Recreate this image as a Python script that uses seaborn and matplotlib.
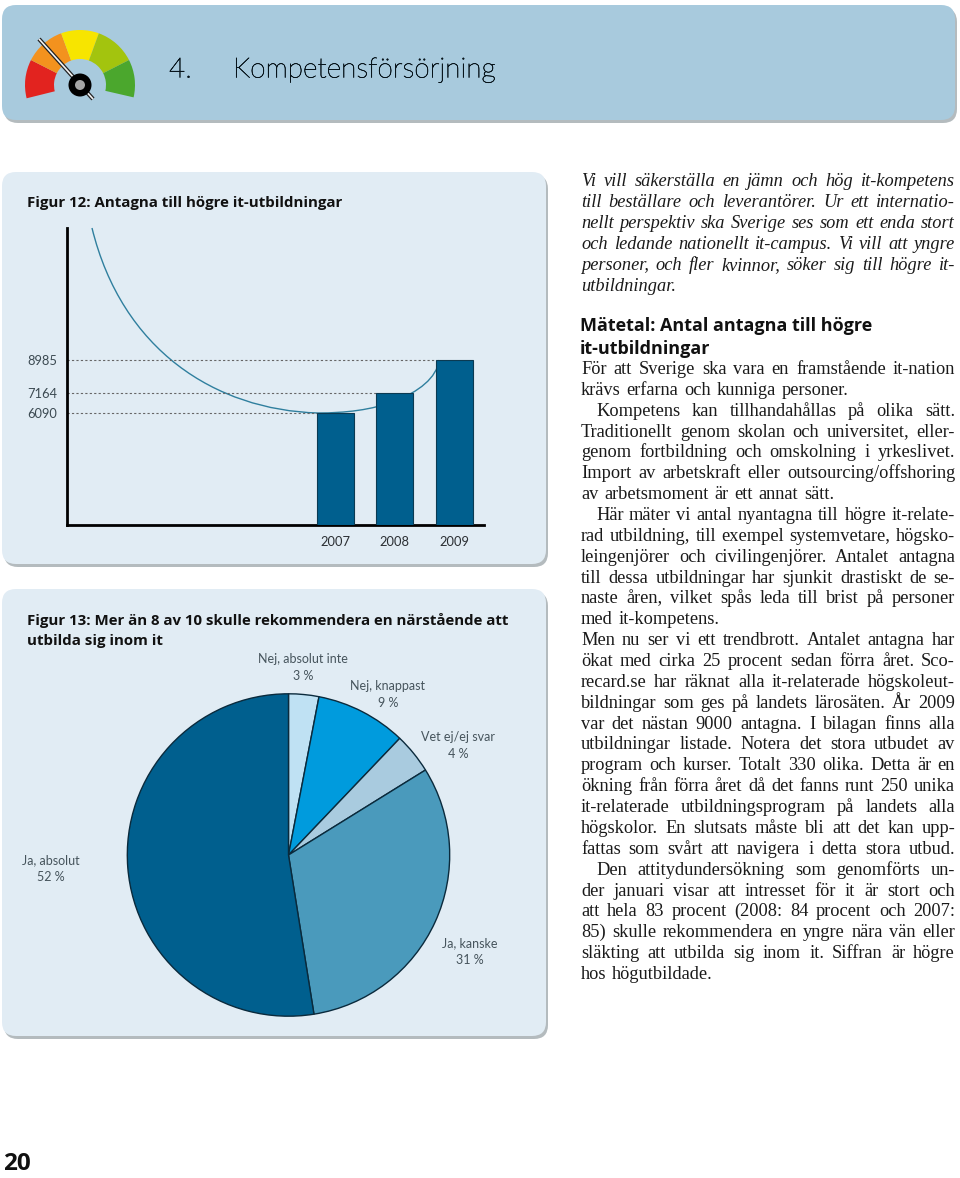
import matplotlib
matplotlib.use("Agg")
import matplotlib.pyplot as plt
import matplotlib.patheffects as pe
import pandas as pd
import seaborn as sns
from matplotlib.patches import FancyBboxPatch, PathPatch, Wedge, Circle
from matplotlib.path import Path

W, H = 960, 1178

# Figur 12
year_slots = ["2003", "2004", "2005", "2006", "2007", "2008", "2009"]
years = ["2007", "2008", "2009"]
admitted = [6090, 7164, 8985]

# Figur 13
pie_labels = ["Nej, absolut inte", "Nej, knappast", "Vet ej/ej svar", "Ja, kanske", "Ja, absolut"]
pie_values = [3, 9, 4, 31, 52]
pie_colors = ["#BFE1F3", "#009BDD", "#A9CBDF", "#4A9ABC", "#005F8E"]

# text column: (text, justified)
intro_lines = [
    ("Vi vill säkerställa en jämn och hög it-kompetens", True),
    ("till beställare och leverantörer. Ur ett internatio-", True),
    ("nellt perspektiv ska Sverige ses som ett enda stort", True),
    ("och ledande nationellt it-campus. Vi vill att yngre", True),
    ("personer, och fler kvinnor, söker sig till högre it-", True),
    ("utbildningar.", False),
]
body_lines = [
    ("För att Sverige ska vara en framstående it-nation", True, 0),
    ("krävs erfarna och kunniga personer.", False, 0),
    ("Kompetens kan tillhandahållas på olika sätt.", True, 15),
    ("Traditionellt genom skolan och universitet, eller-", True, 0),
    ("genom fortbildning och omskolning i yrkeslivet.", True, 0),
    ("Import av arbetskraft eller outsourcing/offshoring", True, 0),
    ("av arbetsmoment är ett annat sätt.", False, 0),
    ("Här mäter vi antal nyantagna till högre it-relate-", True, 15),
    ("rad utbildning, till exempel systemvetare, högsko-", True, 0),
    ("leingenjörer och civilingenjörer. Antalet antagna", True, 0),
    ("till dessa utbildningar har sjunkit drastiskt de se-", True, 0),
    ("naste åren, vilket spås leda till brist på personer", True, 0),
    ("med it-kompetens.", False, 0),
    ("Men nu ser vi ett trendbrott. Antalet antagna har", True, 0),
    ("ökat med cirka 25 procent sedan förra året. Sco-", True, 0),
    ("recard.se har räknat alla it-relaterade högskoleut-", True, 0),
    ("bildningar som ges på landets lärosäten. År 2009", True, 0),
    ("var det nästan 9000 antagna. I bilagan finns alla", True, 0),
    ("utbildningar listade. Notera det stora utbudet av", True, 0),
    ("program och kurser. Totalt 330 olika. Detta är en", True, 0),
    ("ökning från förra året då det fanns runt 250 unika", True, 0),
    ("it-relaterade utbildningsprogram på landets alla", True, 0),
    ("högskolor. En slutsats måste bli att det kan upp-", True, 0),
    ("fattas som svårt att navigera i detta stora utbud.", True, 0),
    ("Den attitydundersökning som genomförts un-", True, 15),
    ("der januari visar att intresset för it är stort och", True, 0),
    ("att hela 83 procent (2008: 84 procent och 2007:", True, 0),
    ("85) skulle rekommendera en yngre nära vän eller", True, 0),
    ("släkting att utbilda sig inom it. Siffran är högre", True, 0),
    ("hos högutbildade.", False, 0),
]

sns.set_theme(style="white")
plt.rcParams["font.family"] = ["Lato", "DejaVu Sans"]

fig = plt.figure(figsize=(W / 100, H / 100), dpi=100, facecolor="white")
bg = fig.add_axes([0, 0, 1, 1])
bg.set_xlim(0, W)
bg.set_ylim(0, H)
bg.axis("off")


def Y(y):
    return H - y


def panel(x0, y0, x1, y1, color, rad=14):
    # grey shadow first, then the panel itself
    for dx, dy, c in [(2, 3, "#B4BBBE"), (0, 0, color)]:
        bg.add_patch(FancyBboxPatch((x0 + rad + dx, Y(y1) + rad - dy), x1 - x0 - 2 * rad, y1 - y0 - 2 * rad,
                                    boxstyle=f"round,pad={rad},rounding_size={rad}", fc=c, ec="none"))


panel(2, 5, 955, 120, "#A8CADD")
panel(2, 172, 546, 564, "#E1ECF4")
panel(2, 589, 546, 1036, "#E1ECF4")

# gauge icon
cx, cy = 80, Y(85)
gauge = [(153, 194, "#E2231F"), (110, 153, "#F3921E"), (70, 110, "#F7E500"), (27, 70, "#A3C40E"), (-13, 27, "#4BA72D")]
for a0, a1, c in gauge:
    bg.add_patch(Wedge((cx, cy), 55, a0, a1, width=29, fc=c, ec="none"))
bg.plot([39, 93], [Y(39), Y(99)], color="#222222", lw=3, solid_capstyle="butt")
bg.plot([39, 93], [Y(39), Y(99)], color="#F2F2F2", lw=1.2, solid_capstyle="butt")
bg.add_patch(Circle((cx, cy), 11.5, fc="black", ec="none", zorder=3))
bg.add_patch(Circle((cx, cy), 5, fc="#A5A5A5", ec="none", zorder=4))

# the light weight renders pale, a hairline stroke brings it back
title_kw = dict(fontsize=20.2, fontweight="light", color="#07141B", va="center",
                path_effects=[pe.withStroke(linewidth=0.4, foreground="#07141B")])
bg.text(169, Y(70), "4.", **title_kw)
bg.text(233, Y(70), "Kompetensförsörjning", **title_kw)

head_kw = dict(family=["Open Sans", "DejaVu Sans"], fontweight="bold", color="#111111", va="center")
bg.text(27, Y(203), "Figur 12: Antagna till högre it-utbildningar", fontsize=10.85, **head_kw)
bg.text(27, Y(620), "Figur 13: Mer än 8 av 10 skulle rekommendera en närstående att", fontsize=10.85, **head_kw)
bg.text(27, Y(641), "utbilda sig inom it", fontsize=10.85, **head_kw)

# decorative arc running behind the bars
arc = Path([(92, Y(228)), (122, Y(350)), (215, Y(410)), (318, Y(413)),
            (345, Y(413)), (372, Y(410)), (395, Y(401)),
            (418, Y(392)), (437, Y(378)), (439, Y(360))],
           [Path.MOVETO] + [Path.CURVE4] * 9)
bg.add_patch(PathPatch(arc, fc="none", ec="#2F7F9E", lw=1))

# bar chart
ax = fig.add_axes([67 / W, (H - 525) / H, 417 / W, 297 / H])
ax.patch.set_alpha(0)
df = pd.DataFrame({"year": years, "antagna": admitted})
sns.barplot(data=df, x="year", y="antagna", order=year_slots, color="#005F8E", saturation=1,
            width=0.62, edgecolor="#0B3A52", linewidth=0.8, ax=ax, zorder=3)
ax.set_ylim(0, 16176)
ax.set_xlim(-0.5, 6.5)
ax.set_xlabel("")
ax.set_ylabel("")
for i, v in zip(range(4, 7), admitted):
    ax.hlines(v, -0.5, i - 0.3, color="#666666", lw=0.8, linestyles=(0, (2, 2)), zorder=2)
ax.set_xticks(range(4, 7), years)
ax.set_yticks(admitted, [str(v) for v in admitted])
ax.tick_params(axis="x", length=0, pad=8, labelsize=9.3, labelcolor="#2B2F33")
ax.tick_params(axis="y", length=0, pad=7, labelsize=9.3, labelcolor="#3C4A52")
sns.despine(ax=ax, top=True, right=True)
ax.spines["left"].set(color="black", linewidth=2)
ax.spines["bottom"].set(color="black", linewidth=2)

# pie chart
pie_ax = fig.add_axes([126.5 / W, (H - 1017) / H, 324 / W, 324 / H])
pie_ax.patch.set_alpha(0)
pie_ax.pie(pie_values, colors=pie_colors, startangle=90, counterclock=False, radius=1,
           wedgeprops={"edgecolor": "#0A2A3C", "linewidth": 1}, normalize=True)
pie_ax.set_xlim(-1.005, 1.005)
pie_ax.set_ylim(-1.005, 1.005)

pie_text_pos = [(303, 659), (388, 686), (458, 737), (470, 943), (51, 860)]
for lab, v, (x, y) in zip(pie_labels, pie_values, pie_text_pos):
    bg.text(x, Y(y), lab, fontsize=9, color="#46545C", ha="center", va="center")
    bg.text(x, Y(y + 17), f"{v} %", fontsize=9, color="#46545C", ha="center", va="center")


# right column, one line at a time so the justified edge holds
renderer = fig.canvas.get_renderer()


def text_width(s, **kw):
    t = bg.text(0, 0, s, **kw)
    w = t.get_window_extent(renderer).width
    t.remove()
    return w


def draw_line(text, y, justified, indent=0, x0=581, x1=955, **kw):
    words = text.split(" ")
    widths = [text_width(w, **kw) for w in words]
    space = text_width("n n", **kw) - text_width("nn", **kw)
    if justified and len(words) > 1:
        space = (x1 - x0 - indent - sum(widths)) / (len(words) - 1)
    else:
        space *= 1.25
    x = x0 + indent
    for w, wd in zip(words, widths):
        bg.text(x, Y(y), w, va="baseline", **kw)
        x += wd + space


serif = dict(family=["Liberation Serif", "DejaVu Serif"], fontsize=13.2, color="#1A1A1A")
for i, (line, just) in enumerate(intro_lines):
    draw_line(line, 186 + 21 * i, just, fontstyle="italic", **serif)

bg.text(580, Y(326), "Mätetal: Antal antagna till högre", fontsize=13, **head_kw)
bg.text(580, Y(349), "it-utbildningar", fontsize=13, **head_kw)

for i, (line, just, indent) in enumerate(body_lines):
    draw_line(line, 374 + 20.86 * i, just, indent, **serif)

bg.text(3, Y(1170), "20", fontsize=17.5, family=["Open Sans", "DejaVu Sans"], fontweight="bold",
        color="#111111", va="baseline")

fig.savefig("out.png", dpi=100, facecolor="white")
